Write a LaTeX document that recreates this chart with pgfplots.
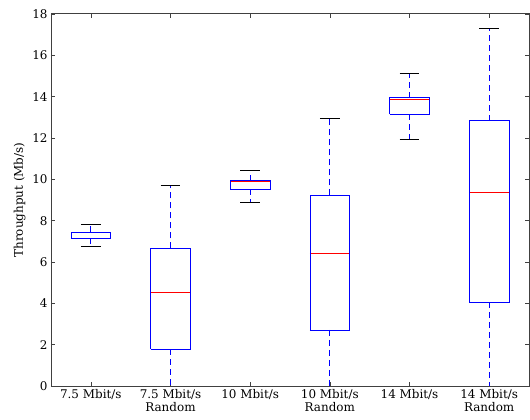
\documentclass[border=0pt]{standalone}
\usepackage{fontspec}
\setmainfont{DejaVu Serif}
\usepackage{pgfplots}
\pgfplotsset{compat=1.18}

\definecolor{mplblue}{RGB}{0,0,255}
\definecolor{mplred}{RGB}{255,0,0}

\pgfplotsset{
  bx/.style={draw=mplblue, solid, line width=0.8pt, mark=none},
  wh/.style={draw=mplblue, line width=0.8pt, mark=none, dash pattern=on 6bp off 4bp},
  cap/.style={draw=black, solid, line width=0.8pt, mark=none},
  med/.style={draw=mplred, solid, line width=0.8pt, mark=none},
}

\begin{document}
\begin{tikzpicture}
\begin{axis}[
  width=478bp, height=372bp, scale only axis,
  xmin=0.5, xmax=6.5, ymin=0, ymax=18,
  ytick={0,2,...,18},
  xtick={1,2,3,4,5,6},
  xticklabels={7.5 Mbit/s, {7.5 Mbit/s\\Random}, 10 Mbit/s, {10 Mbit/s\\Random}, 14 Mbit/s, {14 Mbit/s\\Random}},
  xticklabel style={align=center, font=\fontsize{12}{13}\selectfont},
  yticklabel style={font=\fontsize{12}{13}\selectfont},
  /pgf/number format/assume math mode=true,
  tick align=inside, major tick length=4bp,
  tick style={black!75, line width=0.6pt},
  axis line style={black!75, line width=1pt},
  ylabel={Throughput (Mb/s)},
  ylabel style={font=\fontsize{12}{13}\selectfont},
]
% 7.5 Mbit/s
\addplot[med] coordinates {(0.75,7.42) (1.25,7.42)};
\addplot[bx] coordinates {(0.75,7.16) (1.25,7.16) (1.25,7.45) (0.75,7.45) (0.75,7.16)};
\addplot[wh] coordinates {(1,7.16) (1,6.77)};
\addplot[wh] coordinates {(1,7.45) (1,7.84)};
\addplot[cap] coordinates {(0.875,6.77) (1.125,6.77)};
\addplot[cap] coordinates {(0.875,7.84) (1.125,7.84)};
% 7.5 Mbit/s Random
\addplot[med] coordinates {(1.75,4.51) (2.25,4.51)};
\addplot[bx] coordinates {(1.75,1.79) (2.25,1.79) (2.25,6.66) (1.75,6.66) (1.75,1.79)};
\addplot[wh] coordinates {(2,1.79) (2,0)};
\addplot[wh] coordinates {(2,6.66) (2,9.69)};
\addplot[cap] coordinates {(1.875,0) (2.125,0)};
\addplot[cap] coordinates {(1.875,9.69) (2.125,9.69)};
% 10 Mbit/s
\addplot[med] coordinates {(2.75,9.90) (3.25,9.90)};
\addplot[bx] coordinates {(2.75,9.51) (3.25,9.51) (3.25,9.94) (2.75,9.94) (2.75,9.51)};
\addplot[wh] coordinates {(3,9.51) (3,8.87)};
\addplot[wh] coordinates {(3,9.94) (3,10.42)};
\addplot[cap] coordinates {(2.875,8.87) (3.125,8.87)};
\addplot[cap] coordinates {(2.875,10.42) (3.125,10.42)};
% 10 Mbit/s Random
\addplot[med] coordinates {(3.75,6.43) (4.25,6.43)};
\addplot[bx] coordinates {(3.75,2.71) (4.25,2.71) (4.25,9.22) (3.75,9.22) (3.75,2.71)};
\addplot[wh] coordinates {(4,2.71) (4,0)};
\addplot[wh] coordinates {(4,9.22) (4,12.95)};
\addplot[cap] coordinates {(3.875,0) (4.125,0)};
\addplot[cap] coordinates {(3.875,12.95) (4.125,12.95)};
% 14 Mbit/s
\addplot[med] coordinates {(4.75,13.88) (5.25,13.88)};
\addplot[bx] coordinates {(4.75,13.14) (5.25,13.14) (5.25,13.95) (4.75,13.95) (4.75,13.14)};
\addplot[wh] coordinates {(5,13.14) (5,11.93)};
\addplot[wh] coordinates {(5,13.95) (5,15.14)};
\addplot[cap] coordinates {(4.875,11.93) (5.125,11.93)};
\addplot[cap] coordinates {(4.875,15.14) (5.125,15.14)};
% 14 Mbit/s Random
\addplot[med] coordinates {(5.75,9.39) (6.25,9.39)};
\addplot[bx] coordinates {(5.75,4.06) (6.25,4.06) (6.25,12.84) (5.75,12.84) (5.75,4.06)};
\addplot[wh] coordinates {(6,4.06) (6,0)};
\addplot[wh] coordinates {(6,12.84) (6,17.29)};
\addplot[cap] coordinates {(5.875,0) (6.125,0)};
\addplot[cap] coordinates {(5.875,17.29) (6.125,17.29)};
\end{axis}
\pgfresetboundingbox
\path ([shift={(-51bp,-34bp)}]current axis.south west) rectangle ([shift={(1bp,14bp)}]current axis.north east);
\end{tikzpicture}
\end{document}
